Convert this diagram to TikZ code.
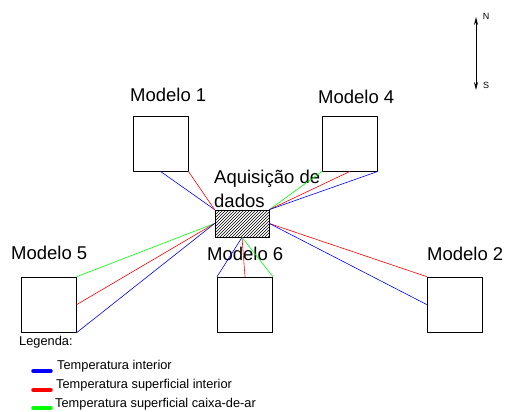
\documentclass[tikz,border=0pt]{standalone}
\usepackage{fontspec}
\setmainfont{Liberation Sans}
\usetikzlibrary{patterns,arrows.meta}

\begin{document}
\begin{tikzpicture}[
    x=1pt,y=-1pt,
    line cap=round,
    line join=round,
    modelbox/.style={draw=black,line width=0.8pt,minimum size=55pt,inner sep=0pt},
    daqbox/.style={draw=black,line width=0.8pt,pattern=north east lines,
        minimum width=54pt,minimum height=27pt,inner sep=0pt},
    biglabel/.style={font=\fontsize{18.5}{24}\selectfont,inner sep=0pt,anchor=base west},
    leglabel/.style={font=\fontsize{12.8}{14}\selectfont,inner sep=0pt,anchor=base west},
    tint/.style={draw=blue,line width=0.6pt},
    tsup/.style={draw=red,line width=0.6pt},
    tcaixa/.style={draw=green,line width=0.6pt},
    legline/.style={line width=3.5pt,line cap=round},
    compass/.style={draw=black,line width=0.8pt,
        {Stealth[length=8pt,width=4pt]}-{Stealth[length=8pt,width=4pt]}}
]

\useasboundingbox (0,0) rectangle (506,412);

\begin{scope}
    \node[modelbox] (m1) at (160.5,143.5) {};
    \node[modelbox] (m4) at (350,143.5) {};
    \node[modelbox] (m5) at (49,304.5) {};
    \node[modelbox] (m6) at (245,304.5) {};
    \node[modelbox] (m2) at (454.5,304.5) {};
    \node[daqbox] (daq) at (242,223.5) {};

    \node[biglabel] (l1) at (130,101) {Modelo 1};
    \node[biglabel] (l4) at (318,103) {Modelo 4};
    \node[biglabel] (l5) at (11,259) {Modelo 5};
    \node[biglabel] (l6) at (207,260) {Modelo 6};
    \node[biglabel] (l2) at (427,260) {Modelo 2};
    \node[biglabel,align=left] (ldaq) at (214,207) {Aquisição de\\dados};
\end{scope}

\draw[tint] (m1.south) -- (daq.north west);
\draw[tsup] (m1.south east) -- (daq.north west);

\draw[tcaixa] (m4.south west) -- (daq.north east);
\draw[tsup] (m4.south) -- (daq.north east);
\draw[tint] (m4.south east) -- (daq.north east);

\draw[tcaixa] (m5.north east) -- (daq.west);
\draw[tsup] (m5.east) -- (daq.west);
\draw[tint] (m5.south east) -- (daq.west);

\draw[tsup] (m2.north west) -- (daq.east);
\draw[tint] (m2.west) -- (daq.east);

\draw[tint] (m6.north west) -- (daq.south);
\draw[tsup] (m6.north) -- (daq.south);
\draw[tcaixa] (m6.north east) -- (daq.south);

\coordinate (north) at (476,17);
\coordinate (south) at (476,90);
\draw[compass] (south) -- (north);
\node[font=\fontsize{9}{10}\selectfont,inner sep=0pt] (lN) at (486,16) {N};
\node[font=\fontsize{9}{10}\selectfont,inner sep=0pt] (lS) at (486,85) {S};

\begin{scope}
    \node[leglabel] (leg) at (19,345) {Legenda:};
    \node[leglabel] (leg1) at (57,369) {Temperatura interior};
    \node[leglabel] (leg2) at (56,388) {Temperatura superficial interior};
    \node[leglabel] (leg3) at (55,407) {Temperatura superficial caixa-de-ar};

    \draw[legline,blue] (33,371) -- (51,371);
    \draw[legline,red] (33,390) -- (51,390);
    \draw[legline,green] (33,408) -- (51,408);
\end{scope}

\end{tikzpicture}
\end{document}
